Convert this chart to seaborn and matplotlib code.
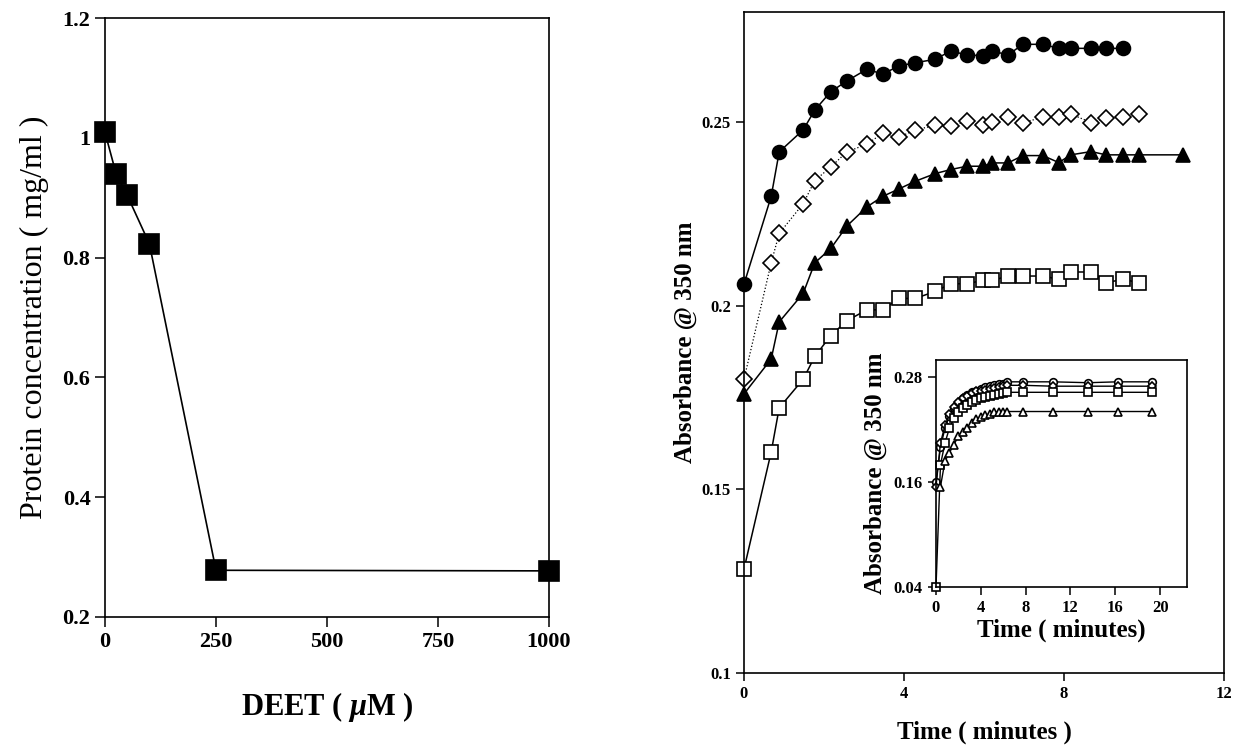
import matplotlib
matplotlib.use("Agg")
import matplotlib.pyplot as plt
import seaborn as sns
import pandas as pd

# ---------------- data ----------------
deet_um = [0, 25, 50, 100, 250, 1000]
protein_mg_ml = [1.009, 0.940, 0.904, 0.823, 0.278, 0.277]

time_min = [0, 0.68, 0.88, 1.48, 1.77, 2.17, 2.57, 3.07, 3.47, 3.87, 4.28, 4.78, 5.17,
            5.57, 5.97, 6.21, 6.60, 6.97, 7.47, 7.87, 8.17, 8.68, 9.05, 9.48, 9.87, 10.97]
abs_filled_circle = [0.2059, 0.2298, 0.2419, 0.2479, 0.2533, 0.2583, 0.2612, 0.2644, 0.2631,
                     0.2653, 0.2662, 0.2671, 0.2694, 0.2683, 0.2681, 0.2694, 0.2683, 0.2712,
                     0.2712, 0.2701, 0.2701, 0.2701, 0.2701, 0.2701]
abs_open_diamond = [0.1800, 0.2117, 0.2197, 0.2278, 0.2341, 0.2378, 0.2419, 0.2440, 0.2470,
                    0.2459, 0.2479, 0.2491, 0.2490, 0.2502, 0.2491, 0.2501, 0.2513, 0.2499,
                    0.2513, 0.2513, 0.2522, 0.2499, 0.2511, 0.2513, 0.2522]
abs_filled_triangle = [0.1760, 0.1855, 0.1956, 0.2034, 0.2117, 0.2156, 0.2217, 0.2269, 0.2298,
                       0.2318, 0.2339, 0.2360, 0.2371, 0.2380, 0.2380, 0.2389, 0.2389, 0.2409,
                       0.2409, 0.2390, 0.2411, 0.2420, 0.2411, 0.2411, 0.2411, 0.2411]
abs_open_square = [0.1283, 0.1602, 0.1722, 0.1800, 0.1862, 0.1919, 0.1959, 0.1989, 0.1989,
                   0.2020, 0.2020, 0.2039, 0.2060, 0.2060, 0.2069, 0.2069, 0.2081, 0.2081,
                   0.2081, 0.2072, 0.2092, 0.2092, 0.2063, 0.2072, 0.2063]

inset_time = [0, 0.4, 0.8, 1.2, 1.6, 2.0, 2.4, 2.8, 3.2, 3.6, 4.0, 4.4, 4.8, 5.2, 5.6, 6.0,
              6.3, 7.8, 10.4, 13.6, 16.2, 19.3]
inset_circle = [0.160, 0.200, 0.222, 0.236, 0.245, 0.251, 0.256, 0.260, 0.263, 0.265, 0.267,
                0.269, 0.270, 0.271, 0.272, 0.273, 0.275, 0.275, 0.275, 0.274, 0.275, 0.275]
inset_diamond = [0.155, 0.205, 0.225, 0.238, 0.246, 0.252, 0.256, 0.259, 0.262, 0.264, 0.265,
                 0.266, 0.267, 0.268, 0.269, 0.270, 0.271, 0.271, 0.270, 0.270, 0.270, 0.270]
inset_square = [0.040, 0.180, 0.205, 0.222, 0.233, 0.240, 0.245, 0.249, 0.252, 0.254, 0.256,
                0.258, 0.259, 0.260, 0.261, 0.262, 0.263, 0.263, 0.263, 0.263, 0.263, 0.263]
inset_triangle_time = [0.4, 0.8, 1.2, 1.6, 2.0, 2.4, 2.8, 3.2, 3.6, 4.0, 4.4, 4.8, 5.2, 5.6,
                       6.0, 6.3, 7.8, 10.4, 13.6, 16.2, 19.3]
inset_triangle = [0.155, 0.184, 0.194, 0.203, 0.213, 0.218, 0.222, 0.228, 0.232, 0.235, 0.237,
                  0.238, 0.240, 0.241, 0.241, 0.241, 0.241, 0.241, 0.241, 0.241, 0.241]

left_xticks = [0, 250, 500, 750, 1000]
left_yticks = [0.2, 0.4, 0.6, 0.8, 1.0, 1.2]
left_yticklabels = ["0.2", "0.4", "0.6", "0.8", "1", "1.2"]
right_xticks = [0, 4, 8, 12]
right_yticks = [0.1, 0.15, 0.2, 0.25]
right_yticklabels = ["0.1", "0.15", "0.2", "0.25"]
inset_xticks = [0, 4, 8, 12, 16, 20]
inset_yticks = [0.04, 0.16, 0.28]
inset_yticklabels = ["0.04", "0.16", "0.28"]

# ---------------- style ----------------
sns.set_theme(style="ticks")
plt.rcParams["font.family"] = ["Liberation Serif", "DejaVu Serif"]
plt.rcParams["mathtext.fontset"] = "custom"
plt.rcParams["mathtext.it"] = "Liberation Serif:italic:bold"
plt.rcParams["axes.linewidth"] = 1.2
plt.rcParams["axes.edgecolor"] = "black"
plt.rcParams["text.color"] = "black"
plt.rcParams["axes.labelcolor"] = "black"
plt.rcParams["xtick.color"] = "black"
plt.rcParams["ytick.color"] = "black"

fig = plt.figure(figsize=(12.36, 7.51), dpi=100)
W, H = 1236, 751


def box(l, t, r, b):
    return [l / W, 1 - b / H, (r - l) / W, (b - t) / H]


def series(ax, x, y, marker, filled, ms, ls="-", lw=1.1):
    df = pd.DataFrame({"x": x, "y": y})
    sns.lineplot(data=df, x="x", y="y", ax=ax, color="black", marker=marker,
                 markersize=ms, markerfacecolor="black" if filled else "white",
                 markeredgecolor="black", markeredgewidth=1.2,
                 linestyle=ls, linewidth=lw, clip_on=False, sort=False,
                 estimator=None)


def style_axes(ax, tick_fs, tick_len=6):
    for s in ax.spines.values():
        s.set_visible(True)
        s.set_color("black")
        s.set_linewidth(1.2)
    ax.tick_params(direction="out", length=tick_len, width=1.1, colors="black",
                   labelsize=tick_fs, top=False, right=False)
    for lab in ax.get_xticklabels() + ax.get_yticklabels():
        lab.set_fontweight("bold")
    ax.grid(False)
    ax.set_facecolor("white")


# ---------------- left panel ----------------
axL = fig.add_axes(box(105, 18, 549, 617))
series(axL, deet_um, protein_mg_ml, "s", True, 14, lw=1.2)
axL.set_xlim(0, 1000)
axL.set_ylim(0.2, 1.2)
axL.set_xticks(left_xticks)
axL.set_xticklabels([str(v) for v in left_xticks])
axL.set_yticks(left_yticks)
axL.set_yticklabels(left_yticklabels)
style_axes(axL, 16, 7)
axL.set_xlabel(r"DEET ( $\mathit{\mu}$M )", fontsize=22, fontweight="bold", labelpad=28)
axL.set_ylabel("Protein concentration ( mg/ml )", fontsize=23, labelpad=10)

# ---------------- right panel ----------------
axR = fig.add_axes(box(744, 12, 1224, 673))
t = time_min
series(axR, t[:len(abs_filled_circle)], abs_filled_circle, "o", True, 10)
series(axR, t[:len(abs_open_diamond)], abs_open_diamond, "D", False, 8, ls=":", lw=0.9)
series(axR, t[:len(abs_filled_triangle)], abs_filled_triangle, "^", True, 10)
series(axR, t[:len(abs_open_square)], abs_open_square, "s", False, 10)
axR.set_xlim(0, 12)
axR.set_ylim(0.1, 0.28)
axR.set_xticks(right_xticks)
axR.set_xticklabels([str(v) for v in right_xticks])
axR.set_yticks(right_yticks)
axR.set_yticklabels(right_yticklabels)
style_axes(axR, 12, 6)
axR.set_xlabel("Time ( minutes )", fontsize=18, fontweight="bold", labelpad=13)
axR.set_ylabel("Absorbance @ 350 nm", fontsize=18, fontweight="bold", labelpad=3)

# ---------------- inset ----------------
axI = fig.add_axes(box(936, 360, 1187, 587))
series(axI, inset_time, inset_circle, "o", False, 5.5, lw=1.0)
series(axI, inset_time, inset_diamond, "D", False, 4.5, lw=1.0)
series(axI, inset_time, inset_square, "s", False, 5.5, lw=1.0)
series(axI, inset_triangle_time, inset_triangle, "^", False, 5.5, lw=1.0)
axI.set_xlim(0, 22.4)
axI.set_ylim(0.04, 0.30)
axI.set_xticks(inset_xticks)
axI.set_xticklabels([str(v) for v in inset_xticks])
axI.set_yticks(inset_yticks)
axI.set_yticklabels(inset_yticklabels)
style_axes(axI, 12, 6)
axI.set_xlabel("Time ( minutes)", fontsize=18, fontweight="bold", labelpad=2)
axI.set_ylabel("Absorbance @ 350 nm", fontsize=18, fontweight="bold", labelpad=5)

fig.savefig("out.png", dpi=100, facecolor="white")
